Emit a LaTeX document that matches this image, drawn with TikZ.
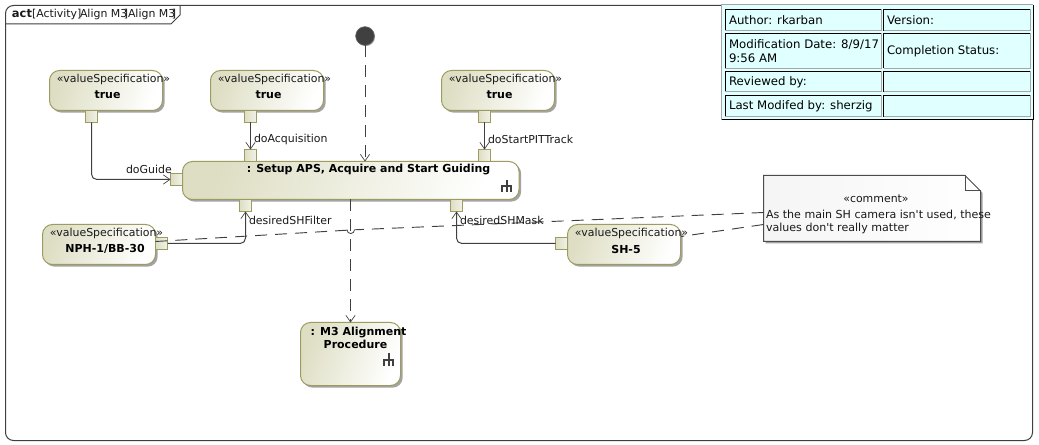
\documentclass[tikz,border=0pt]{standalone}
\usepackage{fontspec}
\setmainfont{DejaVu Sans}
\newfontfamily\plainfont{DejaVu Sans}
\usetikzlibrary{arrows.meta,shadows}
\definecolor{umlborder}{HTML}{9C9C60}
\definecolor{umlfill}{HTML}{DEDEC4}
\definecolor{umlline}{HTML}{404040}
\definecolor{cellfill}{HTML}{E0FFFF}
\newcommand{\stereo}{«valueSpecification»}
\tikzset{
  x=0.75pt,y=-0.75pt,
  every node/.style={inner sep=0pt,outer sep=0pt,font=\fontsize{8.2pt}{9.7pt}\selectfont},
  umlshadow/.style={general shadow={fill=black!36,shadow xshift=1.6pt,shadow yshift=-1.6pt}},
  action/.style={draw=umlborder,line width=0.75pt,rounded corners=7.5pt,umlshadow,left color=umlfill,right color=white,shading angle=70,anchor=north west},
  pinbox/.style={draw=umlborder,line width=0.75pt,left color=umlfill,right color=white!60!umlfill,anchor=north west,minimum width=9pt,minimum height=9pt},
  txt/.style={text=black!90,anchor=west},
  celltxt/.style={text=black,anchor=west,font=\fontsize{8.8pt}{10pt}\selectfont},
  bold/.style={font=\fontsize{8.25pt}{9.6pt}\selectfont\bfseries,text=black,align=center},
  flow/.style={draw=umlline,line width=0.75pt,rounded corners=4pt,-{Straight Barb[length=5pt,width=7pt,line width=0.5pt]}},
  control/.style={draw=umlline,line width=0.7pt,dash pattern=on 9pt off 6pt,-{Straight Barb[length=5pt,width=7pt,line width=0.5pt]}},
  anchorline/.style={draw=umlline,line width=0.7pt,dash pattern=on 9pt off 6pt},
  hi/.style={draw=black,line width=0.75pt},
  lo/.style={draw=black!35,line width=0.75pt}
}
\newcommand{\acnode}[5]{%
  \node[action,minimum width=#4*0.75pt,minimum height=#5*0.75pt] (#1) at (#2,#3) {};
}
\newcommand{\pinnode}[3]{\node[pinbox] (#1) at (#2,#3) {};}
\newcommand{\cell}[4]{%
  \fill[cellfill] (#1,#2) rectangle (#3,#4);
  \draw[hi] (#1,#4) -- (#1,#2) -- (#3,#2);
  \draw[lo] (#1,#4) -- (#3,#4) -- (#3,#2);
}
\begin{document}
\begin{tikzpicture}
\useasboundingbox (0,0) rectangle (1039,445);
\fill[white] (0,0) rectangle (1039,445);
% frame
\draw[draw=black!75,line width=0.75pt,rounded corners=6pt] (5.5,24) -- (5.5,5.5) -- (1032.5,5.5) -- (1032.5,440.5) -- (5.5,440.5) -- cycle;
\draw[draw=black!75,line width=0.75pt] (5.5,24) -- (171,24) -- (180,15) -- (180,5.5);
\node[txt,font=\fontsize{8.6pt}{10pt}\selectfont\bfseries] (tact) at (12,14) {act};
\node[txt] (t1) at (32,14) {[Activity]};
\node[txt] (t2) at (80,14) {Align M3\kern-2.5pt]};
\node[txt] (t3) at (128,14) {Align M3\kern-2.5pt]};
% table
\fill[cellfill] (721.5,5) rectangle (1033,120);
\draw[lo] (721.5,120) -- (721.5,5) -- (1033,5);
\draw[draw=black,line width=0.75pt] (721.5,120) -- (1033,120) -- (1033,5);
\cell{725}{9.5}{881}{31}
\cell{883.5}{9.5}{1030}{31}
\cell{725}{33.5}{881}{68.5}
\cell{883.5}{33.5}{1030}{68.5}
\cell{725}{71.5}{881}{92}
\cell{883.5}{71.5}{1030}{92}
\cell{725}{95.5}{881}{117}
\cell{883.5}{95.5}{1030}{117}
\node[celltxt] (c1) at (729,20) {Author: rkarban};
\node[celltxt] (c2) at (887,20) {Version:};
\node[celltxt,align=left] (c3) at (729,51) {Modification Date: 8/9/17\\9:56 AM};
\node[celltxt] (c4) at (887,51) {Completion Status:};
\node[celltxt] (c5) at (729,82) {Reviewed by:};
\node[celltxt] (c6) at (729,106) {Last Modifed by: sherzig};
% initial node
\node[circle,fill=black!75,draw=black!60,line width=0.5pt,minimum size=14pt,general shadow={fill=black!30,shadow xshift=0.6pt,shadow yshift=-0.6pt}] (init) at (365,36) {};
% action nodes
\acnode{true1}{49.5}{70.5}{113}{40}
\acnode{true2}{210.5}{70.5}{113}{40}
\acnode{true3}{441.5}{70.5}{113}{40}
\acnode{setup}{182.5}{161.5}{336.5}{38}
\acnode{nph}{42.5}{224.5}{113}{40}
\acnode{sh}{567.5}{224.5}{113}{40}
\acnode{m3}{300.5}{322.5}{100}{63}
% pins
\pinnode{p1}{85.5}{110.5}
\pinnode{p2}{244.5}{110.5}
\pinnode{p3}{478.5}{110.5}
\pinnode{q2}{244.5}{149.5}
\pinnode{q3}{478.5}{149.5}
\pinnode{q1}{170.5}{173.5}
\pinnode{q4}{239.5}{199.5}
\pinnode{q5}{450.5}{199.5}
\pinnode{p4}{155.5}{237.5}
\pinnode{p5}{555.5}{237.5}
% comment
\coordinate (na) at (763.5,175.5);
\coordinate (nb) at (965,175.5);
\coordinate (nc) at (980.5,191);
\coordinate (nd) at (980.5,241.5);
\coordinate (ne) at (763.5,241.5);
\coordinate (nf) at (965,191);
\fill[black!36] (765.5,177.5) -- (967,177.5) -- (982.5,193) -- (982.5,243.5) -- (765.5,243.5) -- cycle;
\draw[draw=black!70,line width=0.75pt,left color=black!4,right color=white] (na) -- (nb) -- (nc) -- (nd) -- (ne) -- cycle;
\draw[draw=black!70,line width=0.75pt] (nb) -- (nf) -- (nc);
\node[text=black!90] (cm0) at (876,199) {«comment»};
\node[txt,align=left,font=\plainfont\fontsize{8.3pt}{9.75pt}\selectfont] (cm1) at (766,221.5) {As the main SH camera isn't used, these\\values don't really matter};
% texts in actions
\node[text=black!90] (s1) at (113.5,79) {\stereo};
\node[bold] (b1) at (107.5,95) {true};
\node[text=black!90] (s2) at (274.5,79) {\stereo};
\node[bold] (b2) at (268.5,95) {true};
\node[text=black!90] (s3) at (505.5,79) {\stereo};
\node[bold] (b3) at (499.5,95) {true};
\node[text=black!90] (s4) at (106.5,233) {\stereo};
\node[bold] (b4) at (105,249) {NPH-1/BB-30};
\node[text=black!90] (s5) at (631.5,233) {\stereo};
\node[bold] (b5) at (626,249) {SH-5};
\node[bold] (b6) at (368.5,170) {: Setup APS, Acquire and Start Guiding};
\node[bold] (b7) at (358.5,337.5) {: M3 Alignment\\Procedure\kern4.5pt};
% rake icons
\draw[draw=black!75,line width=1.5pt] (502,192) -- (502,186) -- (511,186) -- (511,192) (506.5,192) -- (506.5,180.5);
\draw[draw=black!75,line width=1.5pt] (384,366) -- (384,359.5) -- (393,359.5) -- (393,366) (388.5,366) -- (388.5,353);
% flows
\draw[flow] (p1.south) |- (q1.west);
\draw[flow] (p2.south) -- (q2.north);
\draw[flow] (p3.south) -- (q3.north);
\draw[flow] (p4.east) -| (q4.south);
\draw[flow] (p5.west) -| (q5.south);
\coordinate (cs) at (350.5,199.5);
\coordinate (ct) at (350.5,322.5);
\draw[control] (init.south) -- (365,161.5);
\draw[control] (cs) -- (ct);
% comment anchors
\coordinate (j1) at (354.5,229.8);
\coordinate (j2) at (347,230.2);
\coordinate (a1) at (763.5,212.5);
\coordinate (a2) at (155.5,241.5);
\coordinate (a3) at (763.5,224.5);
\coordinate (a4) at (681,236.5);
\draw[anchorline] (a1) -- (j1);
\draw[draw=umlline,line width=0.6pt] (j1) arc[start angle=0,end angle=180,radius=3.75];
\draw[anchorline] (j2) -- (a2);
\draw[anchorline] (a3) -- (a4);
% labels
\node[txt] (l1) at (126,169) {doGuide};
\node[txt] (l2) at (254,139) {doAcquisition};
\node[txt] (l3) at (488,139) {doStartPITTrack};
\node[txt] (l4) at (249,220) {desiredSHFilter};
\node[txt] (l5) at (460,220) {desiredSHMask};
\end{tikzpicture}
\end{document}
